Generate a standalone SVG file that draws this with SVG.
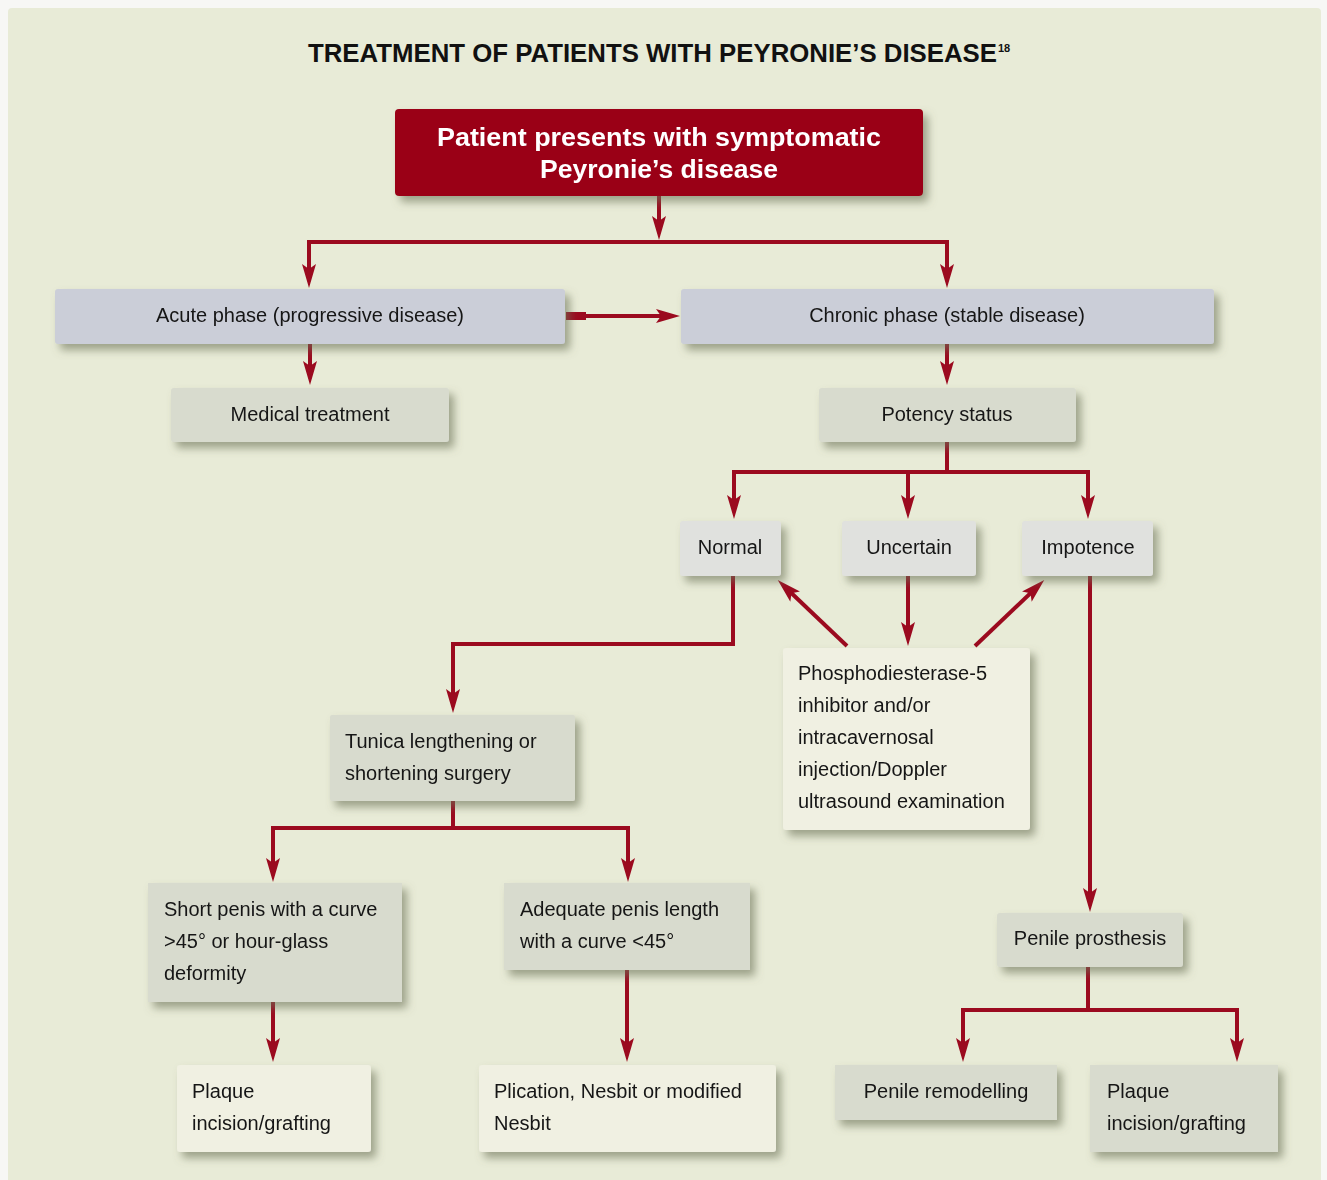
<svg xmlns="http://www.w3.org/2000/svg" width="1327" height="1180" viewBox="0 0 1327 1180">
<defs>
<filter id="sh" x="-10%" y="-20%" width="130%" height="160%">
<feDropShadow dx="5" dy="6" stdDeviation="4" flood-color="#6b6f55" flood-opacity="0.6"/>
</filter>
<marker id="ah" viewBox="0 0 24 14" refX="14" refY="7" markerWidth="24" markerHeight="14" markerUnits="userSpaceOnUse" orient="auto">
<path d="M0,0 L24,7 L0,14 L5,7 z" fill="#9b0a1f"/>
</marker>
<style>
.t{font-family:"Liberation Sans",Arial,sans-serif;font-size:20px;fill:#161616}
.c{text-anchor:middle}
.blue{fill:#cbced8}
.grey{fill:#d8dbce}
.light{fill:#e0e1de}
.cream{fill:#f0f0e2}
.ln{fill:none;stroke:#9b0a1f;stroke-width:4}
.hd{font-family:"Liberation Sans",Arial,sans-serif;font-weight:bold;font-size:26px;fill:#fff;text-anchor:middle}
</style>
</defs>
<rect x="0" y="0" width="1327" height="1180" fill="#f7f7f5"/>
<rect x="8" y="8" width="1313" height="1180" rx="4" fill="#e8ebd7"/>
<text x="652.5" y="62" text-anchor="middle" font-family="Liberation Sans,Arial,sans-serif" font-weight="bold" font-size="25" fill="#111" textLength="689" lengthAdjust="spacingAndGlyphs">TREATMENT OF PATIENTS WITH PEYRONIE’S DISEASE</text>
<text x="998" y="52" font-family="Liberation Sans,Arial,sans-serif" font-weight="bold" font-size="11" fill="#111">18</text>

<g id="connectors">
<path class="ln" d="M659,196 V230" marker-end="url(#ah)"/>
<path class="ln" d="M309,278 V242 H947 V278" marker-end="url(#ah)"/>
<path class="ln" d="M309,250 V278" marker-end="url(#ah)"/>
<rect x="566" y="312" width="20" height="8" fill="#9b0a1f"/>
<path class="ln" d="M580,316 H670" marker-end="url(#ah)"/>
<path class="ln" d="M310,344 V375" marker-end="url(#ah)"/>
<path class="ln" d="M947,344 V375" marker-end="url(#ah)"/>
<path class="ln" d="M947,442 V472 H734 V509" marker-end="url(#ah)"/>
<path class="ln" d="M947,472 H1088 V509" marker-end="url(#ah)"/>
<path class="ln" d="M908,472 V509" marker-end="url(#ah)"/>
<path class="ln" d="M733,576 V644 H453 V703" marker-end="url(#ah)"/>
<path class="ln" d="M908,576 V636" marker-end="url(#ah)"/>
<path class="ln" d="M847,646 L785,587" marker-end="url(#ah)"/>
<path class="ln" d="M975,646 L1037,587" marker-end="url(#ah)"/>
<path class="ln" d="M1090,576 V902" marker-end="url(#ah)"/>
<path class="ln" d="M453,801 V828 H273 V872" marker-end="url(#ah)"/>
<path class="ln" d="M453,828 H628 V872" marker-end="url(#ah)"/>
<path class="ln" d="M273,1002 V1052" marker-end="url(#ah)"/>
<path class="ln" d="M627,970 V1052" marker-end="url(#ah)"/>
<path class="ln" d="M1088,967 V1010 H963 V1052" marker-end="url(#ah)"/>
<path class="ln" d="M1088,1010 H1237 V1052" marker-end="url(#ah)"/>
</g>

<g id="n-top" filter="url(#sh)">
<rect x="395" y="109" width="528" height="87" rx="4" fill="#9a0018"/>
<text class="hd" x="659" y="146" textLength="444" lengthAdjust="spacingAndGlyphs">Patient presents with symptomatic</text>
<text class="hd" x="659" y="178" textLength="238" lengthAdjust="spacingAndGlyphs">Peyronie’s disease</text>
</g>
<g id="n-acute" filter="url(#sh)">
<rect class="blue" x="55" y="289" width="510" height="55" rx="3"/>
<text class="t c" x="310" y="322">Acute phase (progressive disease)</text>
</g>
<g id="n-chronic" filter="url(#sh)">
<rect class="blue" x="681" y="289" width="533" height="55" rx="3"/>
<text class="t c" x="947" y="322">Chronic phase (stable disease)</text>
</g>
<g id="n-medical" filter="url(#sh)">
<rect class="grey" x="171" y="388" width="278" height="54" rx="3"/>
<text class="t c" x="310" y="421">Medical treatment</text>
</g>
<g id="n-potency" filter="url(#sh)">
<rect class="grey" x="819" y="388" width="257" height="54" rx="3"/>
<text class="t c" x="947" y="421">Potency status</text>
</g>
<g id="n-normal" filter="url(#sh)">
<rect class="light" x="680" y="521" width="101" height="55" rx="3"/>
<text class="t c" x="730" y="554">Normal</text>
</g>
<g id="n-uncertain" filter="url(#sh)">
<rect class="light" x="842" y="521" width="134" height="55" rx="3"/>
<text class="t c" x="909" y="554">Uncertain</text>
</g>
<g id="n-impotence" filter="url(#sh)">
<rect class="light" x="1022" y="521" width="131" height="55" rx="3"/>
<text class="t c" x="1088" y="554">Impotence</text>
</g>
<g id="n-pde5" filter="url(#sh)">
<rect class="cream" x="783" y="648" width="247" height="182" rx="3"/>
<text class="t" x="798" y="680">Phosphodiesterase-5</text>
<text class="t" x="798" y="712">inhibitor and/or</text>
<text class="t" x="798" y="744">intracavernosal</text>
<text class="t" x="798" y="776">injection/Doppler</text>
<text class="t" x="798" y="808">ultrasound examination</text>
</g>
<g id="n-tunica" filter="url(#sh)">
<rect class="grey" x="330" y="715" width="245" height="86" rx="2"/>
<text class="t" x="345" y="748">Tunica lengthening or</text>
<text class="t" x="345" y="780">shortening surgery</text>
</g>
<g id="n-short" filter="url(#sh)">
<rect class="grey" x="148" y="883" width="254" height="119"/>
<text class="t" x="164" y="916">Short penis with a curve</text>
<text class="t" x="164" y="948">&gt;45° or hour-glass</text>
<text class="t" x="164" y="980">deformity</text>
</g>
<g id="n-adequate" filter="url(#sh)">
<rect class="grey" x="504" y="883" width="246" height="87"/>
<text class="t" x="520" y="916">Adequate penis length</text>
<text class="t" x="520" y="948">with a curve &lt;45°</text>
</g>
<g id="n-prosthesis" filter="url(#sh)">
<rect class="grey" x="997" y="913" width="186" height="54" rx="3"/>
<text class="t c" x="1090" y="945">Penile prosthesis</text>
</g>
<g id="n-plaque1" filter="url(#sh)">
<rect class="cream" x="177" y="1065" width="194" height="87" rx="3"/>
<text class="t" x="192" y="1098">Plaque</text>
<text class="t" x="192" y="1130">incision/grafting</text>
</g>
<g id="n-plication" filter="url(#sh)">
<rect class="cream" x="479" y="1065" width="297" height="87" rx="3"/>
<text class="t" x="494" y="1098">Plication, Nesbit or modified</text>
<text class="t" x="494" y="1130">Nesbit</text>
</g>
<g id="n-remodelling" filter="url(#sh)">
<rect class="grey" x="835" y="1065" width="222" height="55"/>
<text class="t c" x="946" y="1098">Penile remodelling</text>
</g>
<g id="n-plaque2" filter="url(#sh)">
<rect class="grey" x="1090" y="1065" width="188" height="87"/>
<text class="t" x="1107" y="1098">Plaque</text>
<text class="t" x="1107" y="1130">incision/grafting</text>
</g>
</svg>
